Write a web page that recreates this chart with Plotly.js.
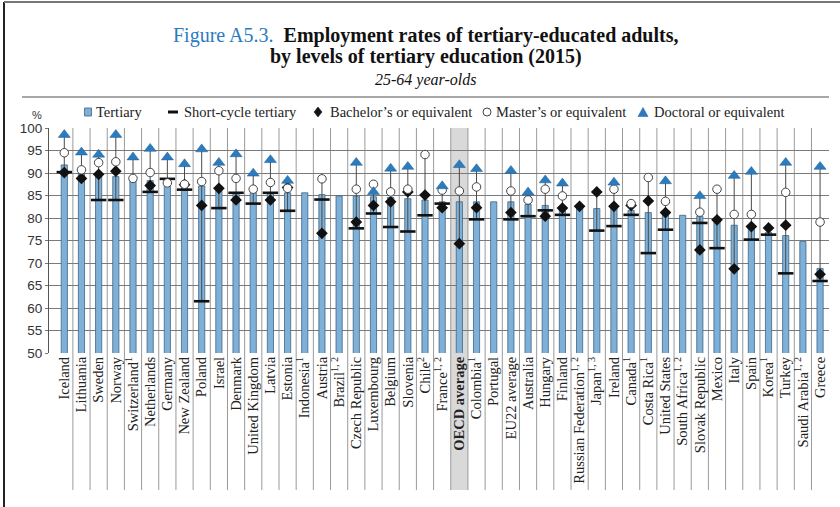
<!DOCTYPE html>
<html>
<head>
<meta charset="utf-8">
<script src="https://cdn.plot.ly/plotly-3.0.1.min.js"></script>
<style>html,body{margin:0;padding:0;background:#fff;}#chart{width:840px;height:507px;}</style>
</head>
<body>
<div id="chart"></div>
<script>
const categories = ["Iceland","Lithuania","Sweden","Norway","Switzerland<sup>1</sup>","Netherlands","Germany","New Zealand","Poland","Israel","Denmark","United Kingdom","Latvia","Estonia","Indonesia<sup>1</sup>","Austria","Brazil<sup>1, 2</sup>","Czech Republic","Luxembourg","Belgium","Slovenia","Chile<sup>2</sup>","France<sup>1, 2</sup>","<b>OECD average</b>","Colombia<sup>1</sup>","Portugal","EU22 average","Australia","Hungary","Finland","Russian Federation<sup>1, 2</sup>","Japan<sup>1, 3</sup>","Ireland","Canada<sup>1</sup>","Costa Rica<sup>1</sup>","United States","South Africa<sup>1, 2</sup>","Slovak Republic","Mexico","Italy","Spain","Korea<sup>1</sup>","Turkey","Saudi Arabia<sup>1, 2</sup>","Greece"];

const tertiary = [91.8,89.9,89.6,89.2,88.9,88.3,88.0,86.9,87.1,86.2,85.7,85.7,85.6,85.6,85.6,85.2,84.9,84.9,84.7,84.6,84.3,84.0,83.6,83.6,83.6,83.6,83.6,83.0,82.8,82.5,82.6,82.1,82.4,81.7,81.2,81.0,80.6,80.4,79.5,78.4,78.0,76.8,76.1,74.8,68.8];

const shortCycle = [90.2,null,84.0,84.0,null,85.8,88.7,86.3,61.5,82.2,85.6,83.2,85.6,81.6,null,84.1,null,77.7,81.0,78.0,77.0,80.6,83.2,null,79.7,null,79.7,80.4,81.7,80.7,null,77.2,78.2,80.7,72.2,77.4,null,78.9,73.3,null,75.2,76.3,67.7,null,66.0];

const bachelor = [90.1,88.8,89.7,90.4,null,87.2,null,87.4,82.8,86.6,84.0,null,84.0,86.8,null,76.6,null,79.1,82.8,83.6,85.8,85.1,82.3,74.3,82.3,null,81.2,null,80.4,82.2,82.6,85.8,82.6,82.8,83.8,81.2,null,72.9,79.6,68.7,78.1,77.8,78.4,null,67.5];

const master = [94.5,90.7,92.3,92.5,88.8,90.1,87.8,87.5,88.1,90.5,88.8,86.4,87.9,86.6,null,88.7,null,86.4,87.5,85.8,86.4,94.1,86.2,86.0,86.9,null,86.0,84.0,86.4,84.9,null,null,86.4,83.2,89.0,83.7,null,81.3,86.4,80.8,80.8,null,85.7,null,79.1];

const doctoral = [98.5,94.6,94.1,98.5,93.5,95.4,93.5,92.0,95.3,92.3,94.2,89.9,92.9,88.3,null,null,null,92.3,85.8,91.0,91.4,null,87.1,91.8,90.9,null,90.5,85.7,88.4,87.7,null,null,87.9,null,null,88.2,null,84.9,null,89.4,90.3,null,92.3,null,91.4];

const yTicks = [50,55,60,65,70,75,80,85,90,95,100];
const seriesNames = ["Tertiary","Short-cycle tertiary","Bachelor’s or equivalent","Master’s or equivalent","Doctoral or equivalent"];
const highlight = "<b>OECD average</b>";

// range lines (min to max of the level markers) per country
const rx = [], ry = [];
categories.forEach((c, i) => {
  const vals = [shortCycle[i], bachelor[i], master[i], doctoral[i]].filter(v => v !== null);
  if (vals.length > 1) {
    rx.push(c, c, null);
    ry.push(Math.min(...vals), Math.max(...vals), null);
  }
});

const serif = "Liberation Serif, Times New Roman, serif";
const sans = "Liberation Sans, Arial, sans-serif";
const barFill = "#7fb1d8", barLine = "#3e6485", triFill = "#2b7bbf";

const traces = [
  {type:"bar", name:seriesNames[0], x:categories, y:tertiary, width:0.36,
   marker:{color:barFill, line:{color:barLine, width:0.8}}},
  {type:"scatter", mode:"lines", x:rx, y:ry, hoverinfo:"skip",
   line:{color:"#4a4a4a", width:1}},
  {type:"scatter", mode:"markers", name:seriesNames[1], x:categories, y:shortCycle,
   marker:{symbol:"line-ew", size:11, line:{color:"#111", width:2.6}}},
  {type:"scatter", mode:"markers", name:seriesNames[2], x:categories, y:bachelor,
   marker:{symbol:"diamond", size:9, color:"#111", line:{color:"#111", width:0}}},
  {type:"scatter", mode:"markers", name:seriesNames[3], x:categories, y:master,
   marker:{symbol:"circle", size:8.5, color:"#fff", line:{color:"#444", width:1}}},
  {type:"scatter", mode:"markers", name:seriesNames[4], x:categories, y:doctoral,
   marker:{symbol:"triangle-up", size:10.5, color:triFill, line:{color:"#1f5f95", width:0.5}}}
];

// layout helpers: pixel -> paper
const L = 49, T = 128, PW = 780, PH = 225;
const px = v => (v - L) / PW;
const py = v => (T + PH - v) / PH;

const hi = categories.indexOf(highlight);
const shapes = [
  {type:"rect", xref:"x", yref:"paper", x0:hi-0.5, x1:hi+0.5, y0:py(490), y1:1,
   fillcolor:"#d9d9d9", line:{width:0}, layer:"below"}
];
for (let i = 0; i < categories.length - 1; i++) {
  shapes.push({type:"line", xref:"x", yref:"paper", x0:i+0.5, x1:i+0.5, y0:py(490), y1:1,
    line:{color:"#9a9a9a", width:1}, layer:"below"});
}
// header rule and frame
shapes.push({type:"line", xref:"paper", yref:"paper", x0:px(22), x1:px(829), y0:py(97), y1:py(97), line:{color:"#a8a8a8", width:2}});
shapes.push({type:"line", xref:"paper", yref:"paper", x0:px(4), x1:px(4), y0:py(507), y1:py(2), line:{color:"#222", width:2}});
shapes.push({type:"line", xref:"paper", yref:"paper", x0:px(4), x1:px(840), y0:py(2), y1:py(2), line:{color:"#777", width:2}});

// legend keys
const ly = 112;
const legendSym = [88, 173, 318, 487, 643];
const legendTxt = [94, 182, 328, 494, 652];
shapes.push({type:"rect", xref:"paper", yref:"paper", x0:px(legendSym[0]-3.5), x1:px(legendSym[0]+3.5), y0:py(ly+4), y1:py(ly-4),
  fillcolor:barFill, line:{color:barLine, width:0.8}});
shapes.push({type:"line", xref:"paper", yref:"paper", x0:px(legendSym[1]-5), x1:px(legendSym[1]+5), y0:py(ly), y1:py(ly),
  line:{color:"#111", width:3}});
{
  const c = legendSym[2];
  shapes.push({type:"path", xref:"paper", yref:"paper",
    path:`M ${px(c)} ${py(ly-5)} L ${px(c+4)} ${py(ly)} L ${px(c)} ${py(ly+5)} L ${px(c-4)} ${py(ly)} Z`,
    fillcolor:"#111", line:{color:"#111", width:0.5}});
}
shapes.push({type:"circle", xref:"paper", yref:"paper", x0:px(legendSym[3]-4), x1:px(legendSym[3]+4), y0:py(ly+4), y1:py(ly-4),
  fillcolor:"#fff", line:{color:"#444", width:1}});
{
  const c = legendSym[4];
  shapes.push({type:"path", xref:"paper", yref:"paper",
    path:`M ${px(c-5)} ${py(ly+4.5)} L ${px(c+5)} ${py(ly+4.5)} L ${px(c)} ${py(ly-4.5)} Z`,
    fillcolor:triFill, line:{color:"#1f5f95", width:0.5}});
}

const annotations = [
  {xref:"paper", yref:"paper", x:px(426), y:py(35), xanchor:"center", yanchor:"middle", showarrow:false,
   text:'<span style="color:#2b7bbf">Figure A5.3.</span>  <b>Employment rates of tertiary-educated adults,</b>',
   font:{family:serif, size:20, color:"#111"}},
  {xref:"paper", yref:"paper", x:px(426), y:py(57), xanchor:"center", yanchor:"middle", showarrow:false,
   text:'<b>by levels of tertiary education (2015)</b>',
   font:{family:serif, size:20, color:"#111"}},
  {xref:"paper", yref:"paper", x:px(425), y:py(80), xanchor:"center", yanchor:"middle", showarrow:false,
   text:'<i>25-64 year-olds</i>',
   font:{family:serif, size:16, color:"#111"}},
  {xref:"paper", yref:"paper", x:px(37), y:py(115), xanchor:"center", yanchor:"middle", showarrow:false,
   text:'%', font:{family:sans, size:11, color:"#333"}}
];
seriesNames.forEach((n, i) => {
  annotations.push({xref:"paper", yref:"paper", x:px(legendTxt[i]), y:py(ly), xanchor:"left", yanchor:"middle",
    showarrow:false, text:n, font:{family:serif, size:14.5, color:"#222"}});
});

const layout = {
  width:840, height:507,
  margin:{l:L, r:840-L-PW, t:T, b:507-T-PH},
  paper_bgcolor:"#fff", plot_bgcolor:"rgba(0,0,0,0)",
  showlegend:false,
  bargap:0,
  xaxis:{type:"category", range:[-0.89, 44.52], tickangle:-90, showgrid:false,
    ticks:"", showline:false, zeroline:false,
    tickfont:{family:serif, size:14.5, color:"#222"}},
  yaxis:{range:[50,100], tickvals:yTicks, ticktext:yTicks.map(String),
    showgrid:true, gridcolor:"#7a7a7a", gridwidth:1, zeroline:false,
    showline:true, linecolor:"#555", linewidth:1, ticks:"outside", ticklen:3, tickcolor:"#777",
    tickfont:{family:sans, size:13.5, color:"#333"}},
  shapes:shapes,
  annotations:annotations
};

Plotly.newPlot("chart", traces, layout, {displayModeBar:false, staticPlot:true});
</script>
</body>
</html>
